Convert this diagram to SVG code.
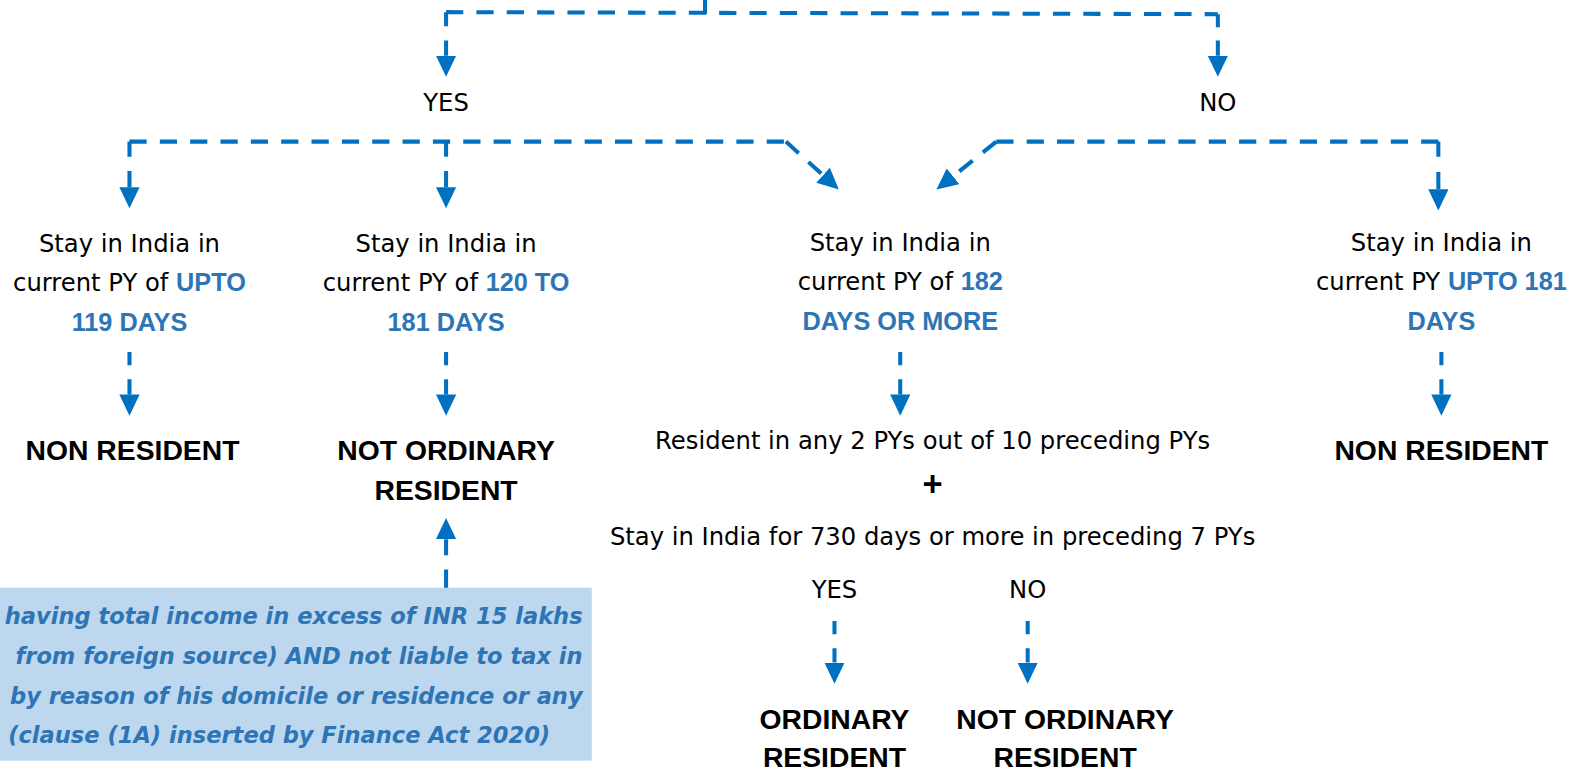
<svg xmlns="http://www.w3.org/2000/svg" width="1583" height="770" viewBox="0 0 1583 770">
<style>
text{font-family:"DejaVu Sans","Liberation Sans",sans-serif;font-size:24px;fill:#000;text-anchor:middle}
.b{font-family:"Liberation Sans",Arial,sans-serif;font-weight:bold}
.bl{font-family:"Liberation Sans",Arial,sans-serif;font-weight:bold;fill:#2E75B6;font-size:25px}
.big{font-family:"Liberation Sans",Arial,sans-serif;font-weight:bold;font-size:28px}
.note{font-family:"DejaVu Sans","Liberation Sans",sans-serif;font-weight:bold;font-style:italic;fill:#2E75B6;font-size:22.3px;text-anchor:end}
.d{fill:none;stroke:#0070C0;stroke-width:4;stroke-dasharray:17 13}
.s{fill:none;stroke:#0070C0;stroke-width:4}
</style>
<defs>
<marker id="ah" markerUnits="userSpaceOnUse" markerWidth="22" markerHeight="20" refX="0" refY="10" orient="auto">
<path d="M0,0 L21,10 L0,20 z" fill="#0070C0"/>
</marker>
</defs>
<rect width="1583" height="770" fill="#fff"/>
<g transform="scale(1.0115)">
<g id="connectors">
<path class="s" d="M697,0 V14"/>
<path class="d" d="M441,12 L1204,14"/>
<path class="s" d="M441,12 V26 M441,40 V55" marker-end="url(#ah)"/>
<path class="s" d="M1204,14 V27 M1204,40 V55" marker-end="url(#ah)"/>
<path class="d" d="M128,140 H777"/>
<path class="d" d="M777,140 L813.7,173.2" marker-end="url(#ah)"/>
<path class="s" d="M128,140 V155 M128,169 V185" marker-end="url(#ah)"/>
<path class="s" d="M441,140 V155 M441,169 V185" marker-end="url(#ah)"/>
<path class="d" d="M985,140 H1422"/>
<path class="d" d="M985,140 L942.2,174.3" marker-end="url(#ah)"/>
<path class="s" d="M1422,140 V155 M1422,170 V187" marker-end="url(#ah)"/>
<path class="s" d="M128,348 V361 M128,375 V390" marker-end="url(#ah)"/>
<path class="s" d="M441,348 V361 M441,375 V390" marker-end="url(#ah)"/>
<path class="s" d="M890,348 V361 M890,375 V390" marker-end="url(#ah)"/>
<path class="s" d="M1425,348 V361 M1425,375 V390" marker-end="url(#ah)"/>
<path class="s" d="M441,585 V563 M441,549 V533" marker-end="url(#ah)"/>
<path class="s" d="M825,614 V627 M825,641 V655" marker-end="url(#ah)"/>
<path class="s" d="M1016,614 V627 M1016,641 V655" marker-end="url(#ah)"/>
</g>
<g id="yes1"><text x="441" y="110">YES</text></g>
<g id="no1"><text x="1204" y="110">NO</text></g>
<g id="c1">
<text x="128" y="249">Stay in India in</text>
<text x="128" y="288">current PY of <tspan class="bl">UPTO</tspan></text>
<text x="128" y="327" class="bl">119 DAYS</text>
</g>
<g id="c2">
<text x="441" y="249">Stay in India in</text>
<text x="441" y="288">current PY of <tspan class="bl">120 TO</tspan></text>
<text x="441" y="327" class="bl">181 DAYS</text>
</g>
<g id="c3">
<text x="890" y="248">Stay in India in</text>
<text x="890" y="287">current PY of <tspan class="bl">182</tspan></text>
<text x="890" y="326" class="bl">DAYS OR MORE</text>
</g>
<g id="c4">
<text x="1425" y="248">Stay in India in</text>
<text x="1425" y="287">current PY <tspan class="bl">UPTO 181</tspan></text>
<text x="1425" y="326" class="bl">DAYS</text>
</g>
<g id="nr1"><text x="131" y="455" class="big">NON RESIDENT</text></g>
<g id="nor1">
<text x="441" y="455" class="big">NOT ORDINARY</text>
<text x="441" y="494" class="big">RESIDENT</text>
</g>
<g id="nr2"><text x="1425" y="455" class="big">NON RESIDENT</text></g>
<g id="cond">
<text x="922" y="444">Resident in any 2 PYs out of 10 preceding PYs</text>
<text x="922" y="490" class="b" style="font-size:34px">+</text>
<text x="922" y="539">Stay in India for 730 days or more in preceding 7 PYs</text>
</g>
<g id="yes2"><text x="825" y="591">YES</text></g>
<g id="no2"><text x="1016" y="591">NO</text></g>
<g id="or">
<text x="825" y="721" class="big">ORDINARY</text>
<text x="825" y="758" class="big">RESIDENT</text>
</g>
<g id="nor2">
<text x="1053" y="721" class="big">NOT ORDINARY</text>
<text x="1053" y="758" class="big">RESIDENT</text>
</g>
<g id="note">
<rect x="0" y="581" width="585" height="171" fill="#BDD7EE"/>
<text x="576" y="617" class="note">having total income in excess of INR 15 lakhs</text>
<text x="576" y="656" class="note">from foreign source) AND not liable to tax in</text>
<text x="576" y="696" class="note">by reason of his domicile or residence or any</text>
<text x="276" y="735" class="note" style="text-anchor:middle">(clause (1A) inserted by Finance Act 2020)</text>
</g>
</g>
</svg>
